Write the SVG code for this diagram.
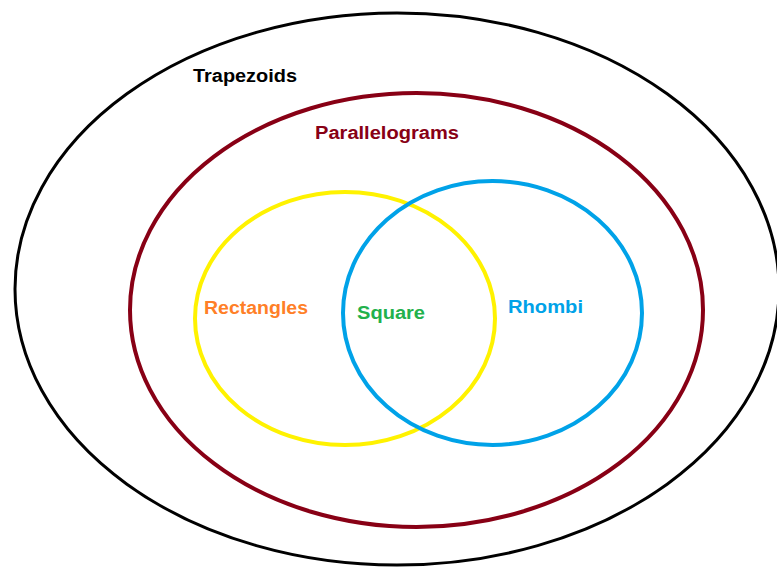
<svg xmlns="http://www.w3.org/2000/svg" width="777" height="567" viewBox="0 0 777 567">
<style>
.ring{fill:none}
.lbl{font-family:"Liberation Sans",Arial,sans-serif;font-weight:bold;font-size:18px}
</style>
<rect width="777" height="567" fill="#ffffff"/>
<g id="trapezoids">
<ellipse class="ring" cx="397" cy="289" rx="382" ry="276" stroke="#000000" stroke-width="3"/>
<text class="lbl" x="193" y="82" fill="#000000" textLength="104" lengthAdjust="spacingAndGlyphs">Trapezoids</text>
</g>
<g id="parallelograms">
<ellipse class="ring" cx="416.5" cy="310" rx="286.5" ry="217" stroke="#880015" stroke-width="4"/>
<text class="lbl" x="315" y="139" fill="#880015" textLength="144" lengthAdjust="spacingAndGlyphs">Parallelograms</text>
</g>
<g id="rectangles">
<ellipse class="ring" cx="345" cy="318.5" rx="150" ry="126.5" stroke="#FFF200" stroke-width="4"/>
<text class="lbl" x="204" y="314" fill="#FF7F27" textLength="104" lengthAdjust="spacingAndGlyphs">Rectangles</text>
</g>
<g id="rhombi">
<ellipse class="ring" cx="492.5" cy="313" rx="149.5" ry="132" stroke="#00A2E8" stroke-width="4"/>
<text class="lbl" x="508" y="313" fill="#00A2E8" textLength="75" lengthAdjust="spacingAndGlyphs">Rhombi</text>
</g>
<g id="square">
<text class="lbl" x="357" y="319" fill="#22B14C" textLength="68" lengthAdjust="spacingAndGlyphs">Square</text>
</g>
<g id="connectors"/>
</svg>
